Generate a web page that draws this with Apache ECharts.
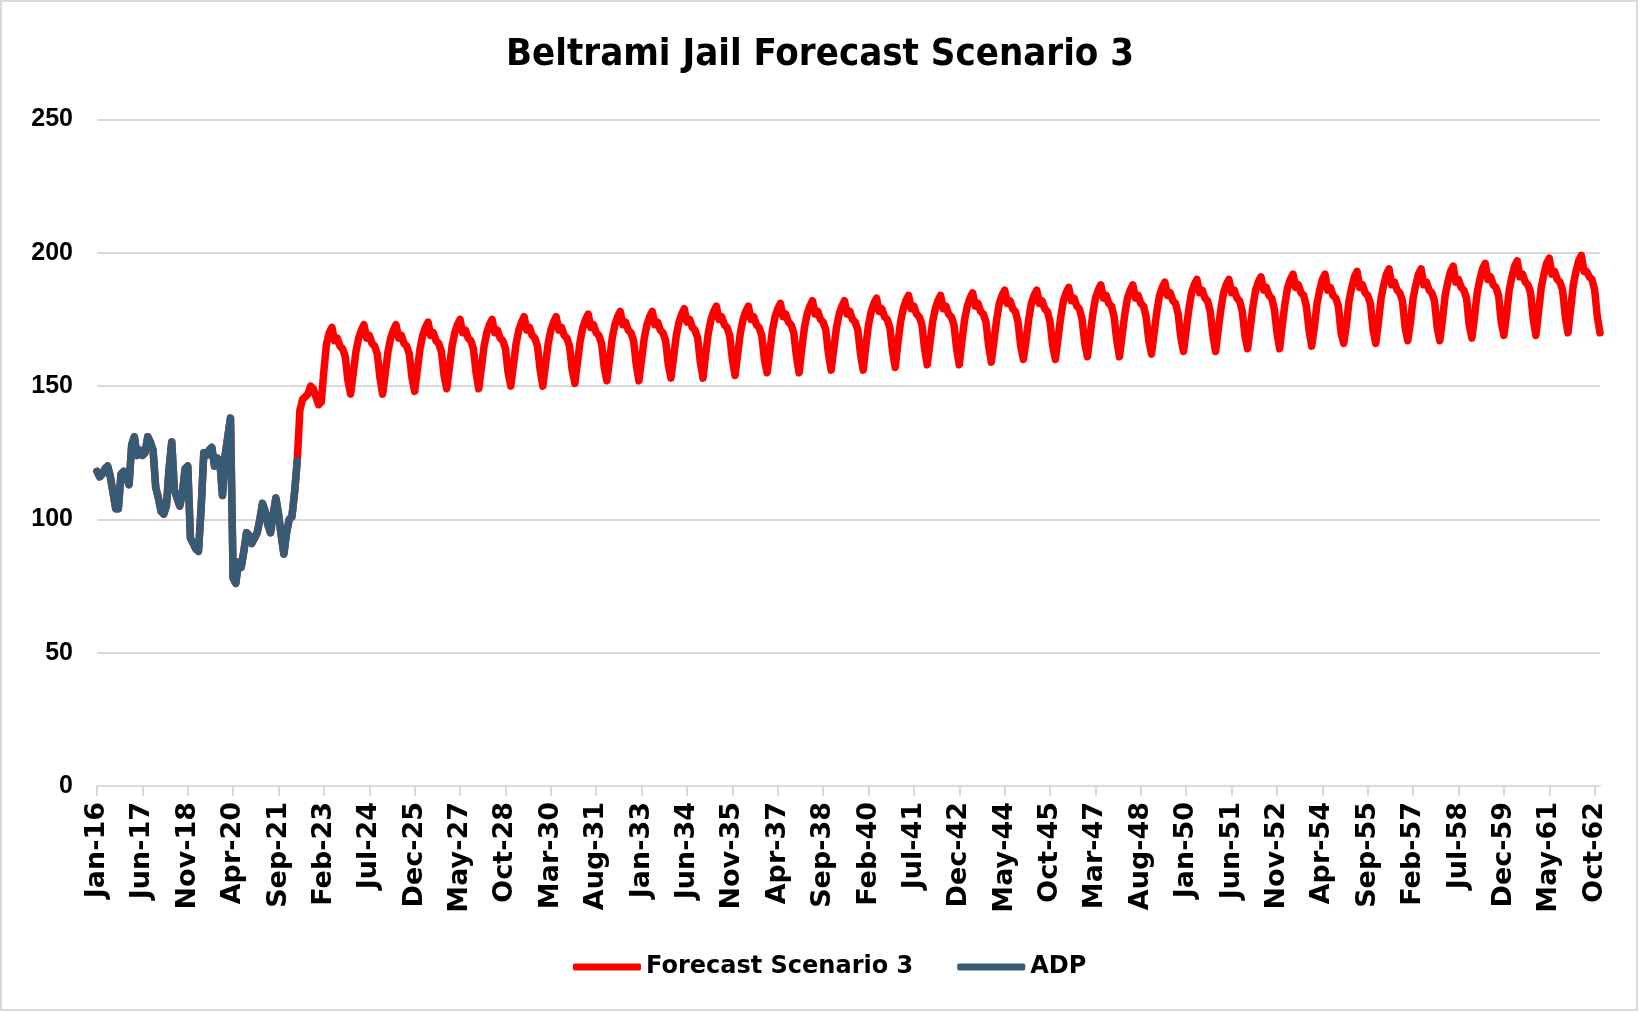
<!DOCTYPE html>
<html><head><meta charset="utf-8">
<script src="https://cdn.jsdelivr.net/npm/echarts@6/dist/echarts.min.js"></script>
<style>html,body{margin:0;padding:0;background:#fff}#c{width:1640px;height:1013px}</style>
</head><body><div id="c"></div>
<script>
// ---- categories (monthly, Jan-16 .. Dec-62) ----
const monthNames = ['Jan','Feb','Mar','Apr','May','Jun','Jul','Aug','Sep','Oct','Nov','Dec'];
const firstYear = 2016, lastYear = 2062;
const categories = [];
for (let y = firstYear; y <= lastYear; y++) {
  for (const m of monthNames) categories.push(m + '-' + String(y % 100).padStart(2, '0'));
}

// ---- ADP history, Jan-16 .. Apr-22 ----
const adp = [
  118,116,117,119,120,116,110,104,104,117,118,116,
  113,128,131,124,126,124,125,131,129,126,112,108,
  103,102,105,119,129,111,108,105,110,119,120,93,
  91,89,88,104,125,124,126,127,120,123,122,109,
  124,131,138,78,76,84,82,88,95,94,91,93,
  95,100,106,103,98,95,102,108,102,94,87,95,
  100,101,110,122
];

// ---- Forecast Scenario 3, May-22 .. Dec-22 ----
const forecast2022 = [141,145,146,147,150,149,146,143];

// ---- Forecast Scenario 3, one row per year 2023 .. 2062 (Jan..Dec) ----
const forecastYears = [
  [144,156,166,170,172,167,168,165,164,161,152,147], // 2023
  [155,163,168,171,173,168,169,166,165,162,153,147], // 2024
  [155,163,168,171,173,168,169,166,165,162,153,148], // 2025
  [156,164,169,172,174,169,170,167,166,163,154,149], // 2026
  [157,165,170,173,175,170,171,168,167,164,155,149], // 2027
  [157,165,170,173,175,170,171,168,167,164,155,150], // 2028
  [158,166,171,174,176,171,172,169,168,165,156,150], // 2029
  [158,166,171,174,176,171,172,169,168,165,156,151], // 2030
  [159,167,172,175,177,172,173,170,169,166,157,152], // 2031
  [160,168,173,176,178,173,174,171,170,167,158,152], // 2032
  [160,168,173,176,178,173,174,171,170,167,158,153], // 2033
  [161,169,174,177,179,174,175,172,171,168,159,153], // 2034
  [162,170,175,178,180,175,176,173,172,169,160,154], // 2035
  [162,170,175,178,180,175,176,173,172,169,160,155], // 2036
  [163,171,176,179,181,176,177,174,173,170,161,155], // 2037
  [164,172,177,180,182,177,178,175,174,171,162,156], // 2038
  [164,172,177,180,182,177,178,175,174,171,162,156], // 2039
  [165,173,178,181,183,178,179,176,175,172,163,157], // 2040
  [166,174,179,182,184,179,180,177,176,173,164,158], // 2041
  [166,174,179,182,184,179,180,177,176,173,164,158], // 2042
  [167,175,180,183,185,180,181,178,177,174,165,159], // 2043
  [167,175,181,184,186,181,182,179,178,174,165,160], // 2044
  [167,175,181,184,186,181,182,179,178,174,165,160], // 2045
  [168,176,182,185,187,182,183,180,179,175,166,161], // 2046
  [169,177,183,186,188,183,184,181,180,176,167,161], // 2047
  [169,177,183,186,188,183,184,181,180,176,167,162], // 2048
  [170,178,184,187,189,184,185,182,181,177,168,163], // 2049
  [171,179,185,188,190,185,186,183,182,178,169,163], // 2050
  [171,179,185,188,190,185,186,183,182,178,169,164], // 2051
  [172,180,186,189,191,186,187,184,183,179,170,164], // 2052
  [173,181,187,190,192,187,188,185,184,180,171,165], // 2053
  [172,181,186,190,192,186,187,184,183,180,170,166], // 2054
  [173,182,187,191,193,187,188,185,184,181,171,166], // 2055
  [174,183,188,192,194,188,189,186,185,182,172,167], // 2056
  [174,183,188,192,194,188,189,186,185,182,172,167], // 2057
  [175,184,189,193,195,189,190,187,186,183,173,168], // 2058
  [176,185,190,194,196,190,191,188,187,184,174,169], // 2059
  [177,186,191,195,197,191,192,189,188,185,175,169], // 2060
  [178,187,192,196,198,192,193,190,189,186,176,170], // 2061
  [179,188,193,197,199,193,193,191,190,186,176,170]  // 2062
];

const yMin = 0, yMax = 250, yStep = 50;
const labelEvery = 17;

// Forecast line runs under the history and continues on
const forecastSeries = adp.concat(forecast2022);
forecastYears.forEach(r => r.forEach(v => forecastSeries.push(v)));

const RED = '#FF0000', BLUE = '#365B74', GRID = '#D9D9D9';

const chart = echarts.init(document.getElementById('c'), null, {renderer: 'canvas'});
chart.setOption({
  animation: false,
  backgroundColor: '#fff',
  title: {
    text: 'Beltrami Jail Forecast Scenario 3',
    left: 'center', top: 31,
    textStyle: {fontFamily: '"DejaVu Sans Condensed", "Liberation Sans Narrow", sans-serif', fontWeight: 'bold', fontSize: 38, color: '#000'}
  },
  graphic: [{
    type: 'rect', shape: {x: 1, y: 1, width: 1636, height: 1009},
    style: {fill: 'none', stroke: GRID, lineWidth: 2}, silent: true
  }],
  legend: {
    left: 568, top: 950,
    itemWidth: 68, itemHeight: 7, itemGap: 44,
    icon: 'roundRect',
    textStyle: {fontFamily: '"DejaVu Sans", sans-serif', fontWeight: 'bold', fontSize: 24, color: '#000'},
    data: ['Forecast Scenario 3', 'ADP']
  },
  grid: {left: 97, right: 40, top: 119.5, bottom: 227, containLabel: false},
  xAxis: {
    type: 'category', data: categories, boundaryGap: false,
    axisLine: {lineStyle: {color: GRID, width: 2}},
    axisTick: {show: true, interval: labelEvery - 1, length: 10, lineStyle: {color: GRID, width: 2}},
    axisLabel: {
      interval: labelEvery - 1, rotate: 90, margin: 16,
      fontFamily: '"DejaVu Sans", sans-serif', fontWeight: 'bold', fontSize: 27, color: '#000'
    },
    splitLine: {show: false}
  },
  yAxis: {
    type: 'value', min: yMin, max: yMax, interval: yStep,
    axisLine: {show: false}, axisTick: {show: false},
    axisLabel: {margin: 24, fontFamily: '"Liberation Sans", sans-serif', fontWeight: 'bold', fontSize: 25, color: '#000'},
    splitLine: {lineStyle: {color: GRID, width: 2}}
  },
  series: [
    {
      name: 'Forecast Scenario 3', type: 'line', data: forecastSeries,
      showSymbol: false, symbol: 'none', z: 2,
      itemStyle: {color: RED},
      lineStyle: {color: RED, width: 7.5, cap: 'round', join: 'round'}
    },
    {
      name: 'ADP', type: 'line', data: adp,
      showSymbol: false, symbol: 'none', z: 3,
      itemStyle: {color: BLUE},
      lineStyle: {color: BLUE, width: 7.5, cap: 'round', join: 'round'}
    }
  ]
});
</script></body></html>
